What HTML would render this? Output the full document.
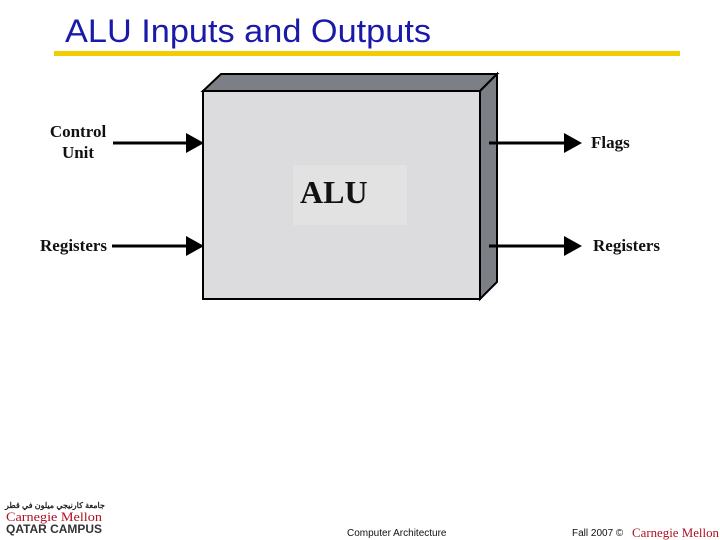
<!DOCTYPE html>
<html><head><meta charset="utf-8"><style>
body{margin:0;background:#fff;}
svg{display:block}
</style></head><body>
<svg width="720" height="540" viewBox="0 0 720 540" xmlns="http://www.w3.org/2000/svg">
<text x="65" y="42" font-family="Liberation Sans, sans-serif" font-size="32" textLength="366" lengthAdjust="spacingAndGlyphs" fill="#1a1aa8">ALU Inputs and Outputs</text>
<rect x="54" y="51" width="626" height="5" fill="#f0cc00"/>
<polygon points="203,91 221,74 497,74 480,91" fill="#7d7f86" stroke="#000" stroke-width="2"/>
<polygon points="480,91 497,74 497,282 480,299" fill="#7d7f86" stroke="#000" stroke-width="2"/>
<rect x="203" y="91" width="277" height="208" fill="#dcdbde" stroke="#000" stroke-width="2"/>
<rect x="293" y="165" width="114" height="60" fill="#e2e2e2"/>
<text x="300" y="203" font-family="Liberation Serif, serif" font-weight="bold" font-size="32" fill="#111">ALU</text>
<g font-family="Liberation Serif, serif" font-weight="bold" font-size="17" fill="#111">
<text x="78" y="137" text-anchor="middle">Control</text>
<text x="78" y="158" text-anchor="middle">Unit</text>
<text x="40" y="251">Registers</text>
<text x="591" y="148">Flags</text>
<text x="593" y="251">Registers</text>
</g>
<g stroke="#000" stroke-width="3">
<line x1="113" y1="143" x2="190" y2="143"/>
<line x1="112" y1="246" x2="190" y2="246"/>
<line x1="489" y1="143" x2="566" y2="143"/>
<line x1="489" y1="246" x2="566" y2="246"/>
</g>
<g fill="#000">
<polygon points="186,133 204,143 186,153"/>
<polygon points="186,236 204,246 186,256"/>
<polygon points="564,133 582,143 564,153"/>
<polygon points="564,236 582,246 564,256"/>
</g>
<text x="5" y="508" font-family="Liberation Sans, sans-serif" font-size="8" font-weight="bold" fill="#222">جامعة كارنيجي ميلون في قطر</text>
<text x="6" y="521" font-family="Liberation Serif, serif" font-size="13" textLength="96" lengthAdjust="spacingAndGlyphs" fill="#b01020">Carnegie Mellon</text>
<text x="6" y="533" font-family="Liberation Sans, sans-serif" font-size="12" font-weight="bold" textLength="96" lengthAdjust="spacingAndGlyphs" fill="#333">QATAR CAMPUS</text>
<text x="347" y="536" font-family="Liberation Sans, sans-serif" font-size="10" fill="#111">Computer Architecture</text>
<text x="572" y="536" font-family="Liberation Sans, sans-serif" font-size="10" fill="#111">Fall 2007 ©</text>
<text x="632" y="537" font-family="Liberation Serif, serif" font-size="13" textLength="87" lengthAdjust="spacingAndGlyphs" fill="#b01020">Carnegie Mellon</text>
</svg>
</body></html>
